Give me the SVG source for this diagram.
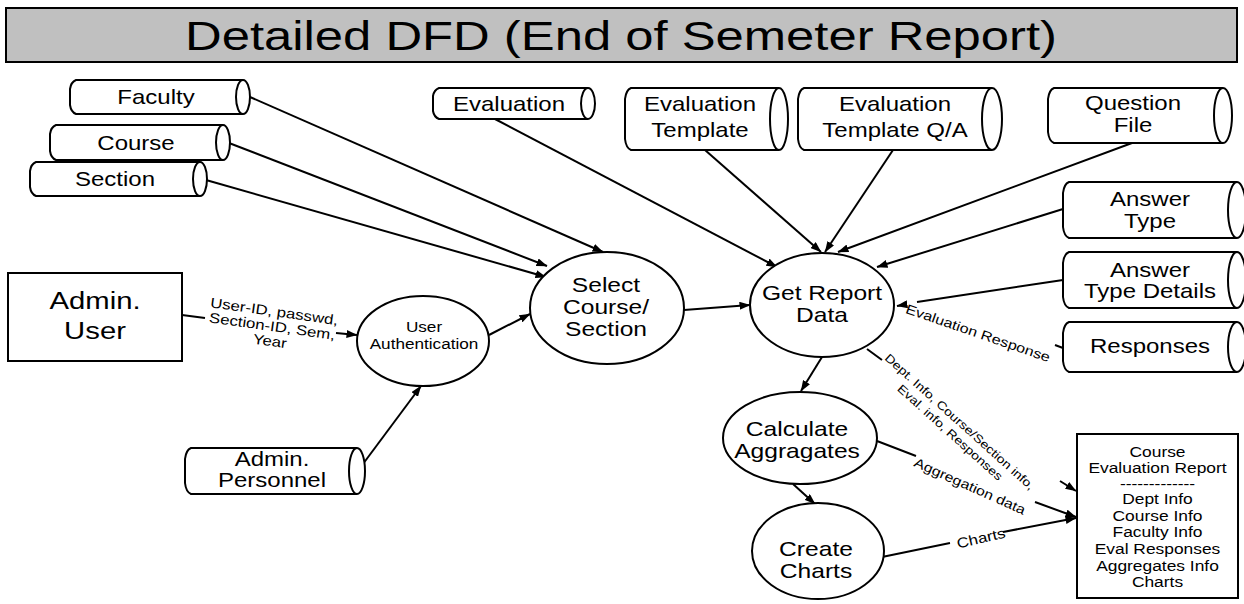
<svg xmlns="http://www.w3.org/2000/svg" width="1244" height="604" viewBox="0 0 1244 604">
  <defs>
    <marker id="ah" viewBox="0 0 11 8" refX="10.5" refY="4" markerWidth="11" markerHeight="8" markerUnits="userSpaceOnUse" orient="auto">
      <path d="M0,0 L11,4 L0,8 z" fill="#000"/>
    </marker>
    <style>
      .t { font-family: "Liberation Sans", Arial, Helvetica, sans-serif; fill: #000; text-anchor: middle; }
      .ds { fill: #fff; stroke: #000; stroke-width: 2; }
      .ds-t { font-size: 20px; }
      .proc { fill: #fff; stroke: #000; stroke-width: 2; }
      .proc-t { font-size: 20.5px; }
      .flow { fill: none; stroke: #000; stroke-width: 2; marker-end: url(#ah); }
      .line { fill: none; stroke: #000; stroke-width: 2; }
      .lbl { font-size: 13.4px; }
    </style>
  </defs>

  <rect width="1244" height="604" fill="#fff"/>

  <!-- title bar -->
  <g id="title">
    <rect x="6" y="8" width="1231" height="54" fill="#c0c0c0" stroke="#000" stroke-width="2"/>
    <text class="t" x="621" y="50" font-size="40" textLength="872" lengthAdjust="spacingAndGlyphs">Detailed DFD (End of Semeter Report)</text>
  </g>

  <!-- connectors -->
  <g id="connectors">
    <path class="flow" d="M250,97 L603,252"/>
    <path class="flow" d="M229,143 L547,266"/>
    <path class="flow" d="M206,180 L546,277"/>
    <path class="flow" d="M182,315 L205,318 M336,333 L357,335"/>
    <path class="flow" d="M489,335 L530,314"/>
    <path class="flow" d="M357,472 L421,386"/>
    <path class="flow" d="M684,310 L750,305"/>
    <path class="flow" d="M495,119 L777,267"/>
    <path class="flow" d="M705,150 L821,252"/>
    <path class="flow" d="M893,150 L825,252"/>
    <path class="flow" d="M1132,143 L838,252"/>
    <path class="flow" d="M1063,209 L877,267"/>
    <path class="flow" d="M1063,280 L917,302 M906,304.5 L897,306"/>
    <path class="line" d="M1063,348 L1055,345"/>
    <path class="flow" d="M822,357 L801,391"/>
    <path class="flow" d="M793,484 L815,504"/>
    <path class="flow" d="M867,349 L882,360 M1060,481 L1076,491"/>
    <path class="flow" d="M877,441 L916,456 M1035,502 L1076,517"/>
    <path class="flow" d="M882,557 L950,543 M1003,532 L1076,518"/>

    <!-- flow labels -->
    <g transform="translate(272,327) rotate(8)">
      <text class="t" font-size="14" transform="scale(1.2,1)" y="-11">User-ID, passwd,</text>
      <text class="t" font-size="14" transform="scale(1.2,1)" y="4">Section-ID, Sem,</text>
      <text class="t" font-size="14" transform="scale(1.2,1)" y="19">Year</text>
    </g>
    <g transform="translate(978,333) rotate(19)">
      <text class="t lbl" transform="scale(1.2,1)" y="4.7">Evaluation Response</text>
    </g>
    <g transform="translate(955,427) rotate(42)">
      <text class="t" font-size="11.8" transform="scale(1.2,1)" y="-3">Dept. Info, Course/Section info,</text>
      <text class="t" font-size="11.8" transform="scale(1.2,1)" y="11.5">Eval. info, Responses</text>
    </g>
    <g transform="translate(970,486) rotate(24)">
      <text class="t" font-size="13.2" transform="scale(1.2,1)" y="4.7">Aggregation data</text>
    </g>
    <g transform="translate(981,538) rotate(-13)">
      <text class="t" font-size="14" transform="scale(1.2,1)" y="5">Charts</text>
    </g>
  </g>

  <!-- external entity -->
  <g id="admin-user">
    <rect x="8" y="273" width="174" height="88" fill="#fff" stroke="#000" stroke-width="2"/>
    <text class="t" font-size="24" transform="translate(95,309) scale(1.22,1)">Admin.</text>
    <text class="t" font-size="24" transform="translate(95,339) scale(1.22,1)">User</text>
  </g>

  <!-- data stores -->
  <g id="ds-faculty">
    <path class="ds" d="M243,80 H76 Q71,82 70,89 V105 Q71,112 76,114 H243"/>
    <ellipse class="ds" cx="243" cy="97" rx="7" ry="17"/>
    <text class="t ds-t" transform="translate(156,104) scale(1.2,1)">Faculty</text>
  </g>
  <g id="ds-course">
    <path class="ds" d="M223,125 H56 Q51,127 50,134 V151 Q51,158 56,160 H223"/>
    <ellipse class="ds" cx="223" cy="142.5" rx="7" ry="17.5"/>
    <text class="t ds-t" transform="translate(136,150) scale(1.2,1)">Course</text>
  </g>
  <g id="ds-section">
    <path class="ds" d="M200,162 H36 Q31,164 30,171 V187 Q31,194 36,196 H200"/>
    <ellipse class="ds" cx="200" cy="179" rx="7" ry="17"/>
    <text class="t ds-t" transform="translate(115,186) scale(1.2,1)">Section</text>
  </g>
  <g id="ds-evaluation">
    <path class="ds" d="M588,88 H439 Q434,90 433,96 V111 Q434,117 439,119 H588"/>
    <ellipse class="ds" cx="588" cy="103.5" rx="7" ry="15.5"/>
    <text class="t ds-t" transform="translate(509,110.5) scale(1.2,1)">Evaluation</text>
  </g>
  <g id="ds-eval-template">
    <path class="ds" d="M779,88 H631 Q626,90 625,99 V139 Q626,148 631,150 H779"/>
    <ellipse class="ds" cx="779" cy="119" rx="9" ry="31"/>
    <text class="t ds-t" transform="translate(700,111) scale(1.2,1)">Evaluation</text>
    <text class="t ds-t" transform="translate(700,137) scale(1.2,1)">Template</text>
  </g>
  <g id="ds-eval-template-qa">
    <path class="ds" d="M992,88 H804 Q799,90 798,99 V139 Q799,148 804,150 H992"/>
    <ellipse class="ds" cx="992" cy="119" rx="10" ry="31"/>
    <text class="t ds-t" transform="translate(895,111) scale(1.2,1)">Evaluation</text>
    <text class="t ds-t" transform="translate(895,137) scale(1.2,1)">Template Q/A</text>
  </g>
  <g id="ds-question-file">
    <path class="ds" d="M1223,88 H1054 Q1049,90 1048,99 V132 Q1049,141 1054,143 H1223"/>
    <ellipse class="ds" cx="1223" cy="115.5" rx="9" ry="27.5"/>
    <text class="t ds-t" transform="translate(1133,110) scale(1.2,1)">Question</text>
    <text class="t ds-t" transform="translate(1133,132) scale(1.2,1)">File</text>
  </g>
  <g id="ds-answer-type">
    <path class="ds" d="M1237,182 H1069 Q1064,184 1063,193 V227 Q1064,236 1069,238 H1237"/>
    <ellipse class="ds" cx="1237" cy="210" rx="9" ry="28"/>
    <text class="t ds-t" transform="translate(1150,206) scale(1.2,1)">Answer</text>
    <text class="t ds-t" transform="translate(1150,228) scale(1.2,1)">Type</text>
  </g>
  <g id="ds-answer-type-details">
    <path class="ds" d="M1237,252 H1069 Q1064,254 1063,263 V297 Q1064,306 1069,308 H1237"/>
    <ellipse class="ds" cx="1237" cy="280" rx="9" ry="28"/>
    <text class="t ds-t" transform="translate(1150,277) scale(1.2,1)">Answer</text>
    <text class="t ds-t" transform="translate(1150,298) scale(1.2,1)">Type Details</text>
  </g>
  <g id="ds-responses">
    <path class="ds" d="M1237,322 H1069 Q1064,324 1063,333 V361 Q1064,370 1069,372 H1237"/>
    <ellipse class="ds" cx="1237" cy="347" rx="9" ry="25"/>
    <text class="t ds-t" transform="translate(1150,353) scale(1.2,1)">Responses</text>
  </g>
  <g id="ds-admin-personnel">
    <path class="ds" d="M357,448 H191 Q186,450 185,459 V483 Q186,492 191,494 H357"/>
    <ellipse class="ds" cx="357" cy="471" rx="8" ry="23"/>
    <text class="t ds-t" transform="translate(272,466) scale(1.2,1)">Admin.</text>
    <text class="t ds-t" transform="translate(272,487) scale(1.2,1)">Personnel</text>
  </g>

  <!-- processes -->
  <g id="p-user-auth">
    <ellipse class="proc" cx="423" cy="341" rx="66" ry="45"/>
    <text class="t" font-size="14.3" transform="translate(424,332) scale(1.2,1)">User</text>
    <text class="t" font-size="14.3" transform="translate(424,349) scale(1.2,1)">Authentication</text>
  </g>
  <g id="p-select-course">
    <ellipse class="proc" cx="607" cy="308" rx="77" ry="56"/>
    <text class="t proc-t" transform="translate(606,292) scale(1.2,1)">Select</text>
    <text class="t proc-t" transform="translate(606,314) scale(1.2,1)">Course/</text>
    <text class="t proc-t" transform="translate(606,336) scale(1.2,1)">Section</text>
  </g>
  <g id="p-get-report">
    <ellipse class="proc" cx="822" cy="305" rx="72" ry="52"/>
    <text class="t proc-t" transform="translate(822,300) scale(1.2,1)">Get Report</text>
    <text class="t proc-t" transform="translate(822,322) scale(1.2,1)">Data</text>
  </g>
  <g id="p-calc-aggregates">
    <ellipse class="proc" cx="800" cy="438" rx="77" ry="46"/>
    <text class="t proc-t" transform="translate(797,436) scale(1.2,1)">Calculate</text>
    <text class="t proc-t" transform="translate(797,458) scale(1.2,1)">Aggragates</text>
  </g>
  <g id="p-create-charts">
    <ellipse class="proc" cx="818" cy="551" rx="66" ry="48"/>
    <text class="t proc-t" transform="translate(816,556) scale(1.2,1)">Create</text>
    <text class="t proc-t" transform="translate(816,578) scale(1.2,1)">Charts</text>
  </g>

  <!-- report output -->
  <g id="report">
    <rect x="1077" y="434" width="161" height="164" fill="#fff" stroke="#000" stroke-width="2"/>
    <text class="t" font-size="14.5" transform="translate(1157.5,457) scale(1.2,1)">Course</text>
    <text class="t" font-size="14.5" transform="translate(1157.5,473) scale(1.2,1)">Evaluation Report</text>
    <text class="t" font-size="14.5" transform="translate(1157.5,489) scale(1.2,1)">-------------</text>
    <text class="t" font-size="14.5" transform="translate(1157.5,504) scale(1.2,1)">Dept Info</text>
    <text class="t" font-size="14.5" transform="translate(1157.5,521) scale(1.2,1)">Course Info</text>
    <text class="t" font-size="14.5" transform="translate(1157.5,537) scale(1.2,1)">Faculty Info</text>
    <text class="t" font-size="14.5" transform="translate(1157.5,554) scale(1.2,1)">Eval Responses</text>
    <text class="t" font-size="14.5" transform="translate(1157.5,571) scale(1.2,1)">Aggregates Info</text>
    <text class="t" font-size="14.5" transform="translate(1157.5,587) scale(1.2,1)">Charts</text>
  </g>
</svg>
